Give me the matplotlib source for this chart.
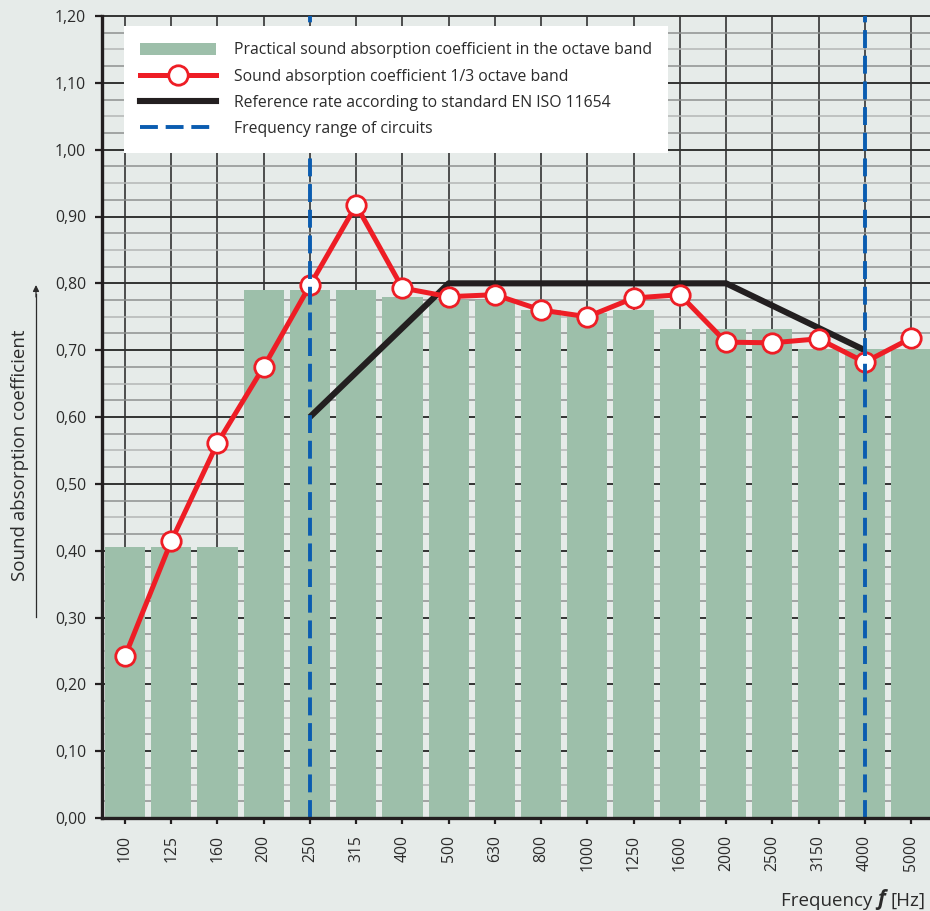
import matplotlib
matplotlib.use("Agg")
import matplotlib.pyplot as plt
from matplotlib.lines import Line2D
from matplotlib.patches import Patch
import numpy as np

plt.rcParams['font.family'] = ['Open Sans', 'DejaVu Sans']

# data
freqs = ["100", "125", "160", "200", "250", "315", "400", "500", "630", "800",
         "1000", "1250", "1600", "2000", "2500", "3150", "4000", "5000"]
octave_alpha = [0.405, 0.405, 0.405, 0.79, 0.79, 0.79, 0.78, 0.775, 0.775, 0.76,
                0.755, 0.76, 0.732, 0.732, 0.732, 0.702, 0.702, 0.702]
third_alpha = [0.242, 0.414, 0.561, 0.675, 0.797, 0.917, 0.793, 0.78, 0.783, 0.76,
               0.75, 0.778, 0.783, 0.712, 0.711, 0.717, 0.682, 0.718]
ref_freqs = ["250", "500", "2000", "4000"]
ref_alpha = [0.60, 0.80, 0.80, 0.70]
range_freqs = ["250", "4000"]
yticks = [0.0, 0.1, 0.2, 0.3, 0.4, 0.5, 0.6, 0.7, 0.8, 0.9, 1.0, 1.1, 1.2]
ytick_labels = [f"{v:.2f}".replace(".", ",") for v in yticks]

bg = "#e6ebe9"
bar_col = "#9dbfaa"
red = "#ee1d25"
blue = "#0a5cb0"
dark = "#231f20"
txt = "#2b2b2b"

W, H = 930, 911
fig = plt.figure(figsize=(W / 100, H / 100), dpi=100, facecolor=bg)
ax = fig.add_axes([102 / W, 1 - 818 / H, 828 / W, 802 / H], facecolor=bg)

x = np.arange(len(freqs))
pos = {f: i for i, f in enumerate(freqs)}

# grid
for i in x:
    ax.axvline(i, color="#333333", lw=1.2, zorder=0)
for k in range(48):
    v = k * 0.025
    if k % 4 == 0:
        continue
    col = "#b4b6b5" if k % 2 == 0 else "#8e908f"
    ax.axhline(v, color=col, lw=1.1, zorder=0)
for v in yticks:
    ax.axhline(v, color="#333333", lw=1.4, zorder=0.5, clip_on=False)

ax.bar(x, octave_alpha, width=0.87, color=bar_col, zorder=2)
ax.plot([pos[f] for f in ref_freqs], ref_alpha, color=dark, lw=4.4,
        solid_capstyle="butt", zorder=3)
ax.plot(x, third_alpha, color=red, lw=3.6, marker="o", ms=14,
        mfc="white", mec=red, mew=2, zorder=4)
for f in range_freqs:
    ax.axvline(pos[f], color=blue, lw=2.8, dashes=(4.6, 2.0), zorder=5,
               clip_on=False)

ax.set_xlim(-0.497, 17.41)
ax.set_ylim(0, 1.2)
ax.set_xticks(x)
ax.set_xticklabels(freqs, rotation=90, va="top", fontsize=11.3, color=txt)
ax.set_yticks(yticks)
ax.set_yticklabels(ytick_labels, fontsize=11.3, color=txt)
ax.tick_params(axis="y", length=5, width=1.6, pad=6.5, color=dark)
ax.tick_params(axis="x", length=4.5, width=1.6, pad=8, color=dark)
for s in ["top", "right"]:
    ax.spines[s].set_visible(False)
for s in ["left", "bottom"]:
    ax.spines[s].set_color(dark)
    ax.spines[s].set_linewidth(2.4)
    ax.spines[s].set_zorder(6)

handles = [
    Patch(facecolor=bar_col, edgecolor="none"),
    Line2D([], [], color=red, lw=3.6, marker="o", ms=14, mfc="white", mec=red, mew=2),
    Line2D([], [], color=dark, lw=4.4),
    Line2D([], [], color=blue, lw=2.8, dashes=(4.6, 2.0)),
]
labels = [
    "Practical sound absorption coefficient in the octave band",
    "Sound absorption coefficient 1/3 octave band",
    "Reference rate according to standard EN ISO 11654",
    "Frequency range of circuits",
]
leg = ax.legend(handles, labels, loc="upper left",
                bbox_to_anchor=((124 - 102) / 828, (818 - 26) / 802),
                fontsize=11.3, handlelength=4.8, handleheight=0.85,
                labelspacing=0.64, borderpad=1.05, handletextpad=1.15,
                fancybox=False, frameon=True, framealpha=1, borderaxespad=0)
leg.get_frame().set_facecolor("white")
leg.get_frame().set_edgecolor("none")
leg.set_zorder(7)
for t in leg.get_texts():
    t.set_color(txt)

# y label with arrow
fig.text(20 / W, 1 - 455 / H, "Sound absorption coefficient", rotation=90,
         ha="center", va="center", fontsize=13.5, color=txt)
fig.add_artist(plt.Line2D([36 / W, 36 / W], [1 - 617 / H, 1 - 294 / H],
                          color=txt, lw=0.9))
ax.annotate("", xy=(36 / W, 1 - 285 / H), xytext=(36 / W, 1 - 297 / H),
            xycoords="figure fraction",
            arrowprops=dict(arrowstyle="-|>", color=txt, lw=0.9,
                            mutation_scale=9, shrinkA=0, shrinkB=0))

# x label
t1 = fig.text(925 / W, 1 - 906 / H, "[Hz]", ha="right", va="baseline",
              fontsize=13.5, color=txt)
t2 = ax.annotate("f ", xy=(0, 0), xycoords=t1, ha="right", va="bottom",
                 fontsize=15, fontweight="bold", fontstyle="italic",
                 color=txt)
ax.annotate("Frequency ", xy=(0, 0), xycoords=t2, ha="right", va="bottom",
            fontsize=13.5, color=txt)

fig.savefig("out.png", dpi=100, facecolor=bg)
